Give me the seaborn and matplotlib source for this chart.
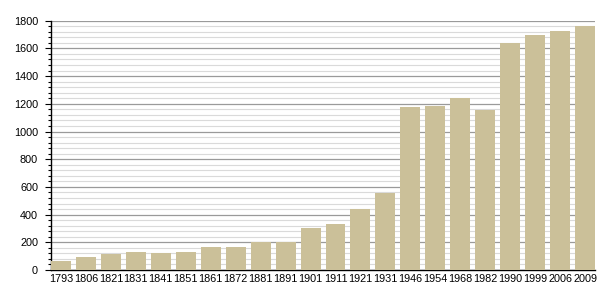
import matplotlib
matplotlib.use("Agg")
import matplotlib.pyplot as plt
import seaborn as sns
import pandas as pd
import numpy as np
from matplotlib.ticker import MultipleLocator

years = ["1793", "1806", "1821", "1831", "1841", "1851", "1861", "1872", "1881", "1891",
         "1901", "1911", "1921", "1931", "1946", "1954", "1968", "1982", "1990", "1999",
         "2006", "2009"]
population = [65, 92, 113, 132, 123, 130, 164, 164, 202, 202,
              301, 332, 438, 554, 1176, 1186, 1241, 1152, 1639, 1694,
              1723, 1759]

df = pd.DataFrame({"year": years, "population": population})

sns.set_style("white")
plt.rcParams['font.family'] = ['Liberation Sans', 'DejaVu Sans']

fig = plt.figure(figsize=(6.05, 3.0), dpi=100)
ax = fig.add_axes([0.0835, 0.1, 0.9, 0.831])

sns.barplot(data=df, x="year", y="population", color="#CBC099", width=0.8,
            saturation=1, ax=ax, zorder=3, linewidth=0)

ax.set_ylim(0, 1800)
ax.set_xlim(-0.42, 21.4)
ax.yaxis.set_major_locator(MultipleLocator(200))
ax.yaxis.set_minor_locator(MultipleLocator(40))
ax.grid(which="major", axis="y", color="#9a9a9a", linewidth=0.9, zorder=0)
ax.grid(which="minor", axis="y", color="#dadada", linewidth=0.8, zorder=0)
ax.set_axisbelow(True)

for s in ["top", "right"]:
    ax.spines[s].set_visible(False)
for s in ["left", "bottom"]:
    ax.spines[s].set_color("black")
    ax.spines[s].set_linewidth(1.0)

ax.tick_params(axis="y", which="major", left=True, length=4, width=0.8, pad=5,
               labelsize=7.8, color="black", labelcolor="black")
ax.tick_params(axis="y", which="minor", left=True, length=2.5, width=0.8, color="black")
ax.tick_params(axis="x", which="both", bottom=False, length=0, pad=3, labelsize=7.8,
               labelcolor="black")
ax.set_xlabel("")
ax.set_ylabel("")

fig.savefig("out.png", dpi=100)
